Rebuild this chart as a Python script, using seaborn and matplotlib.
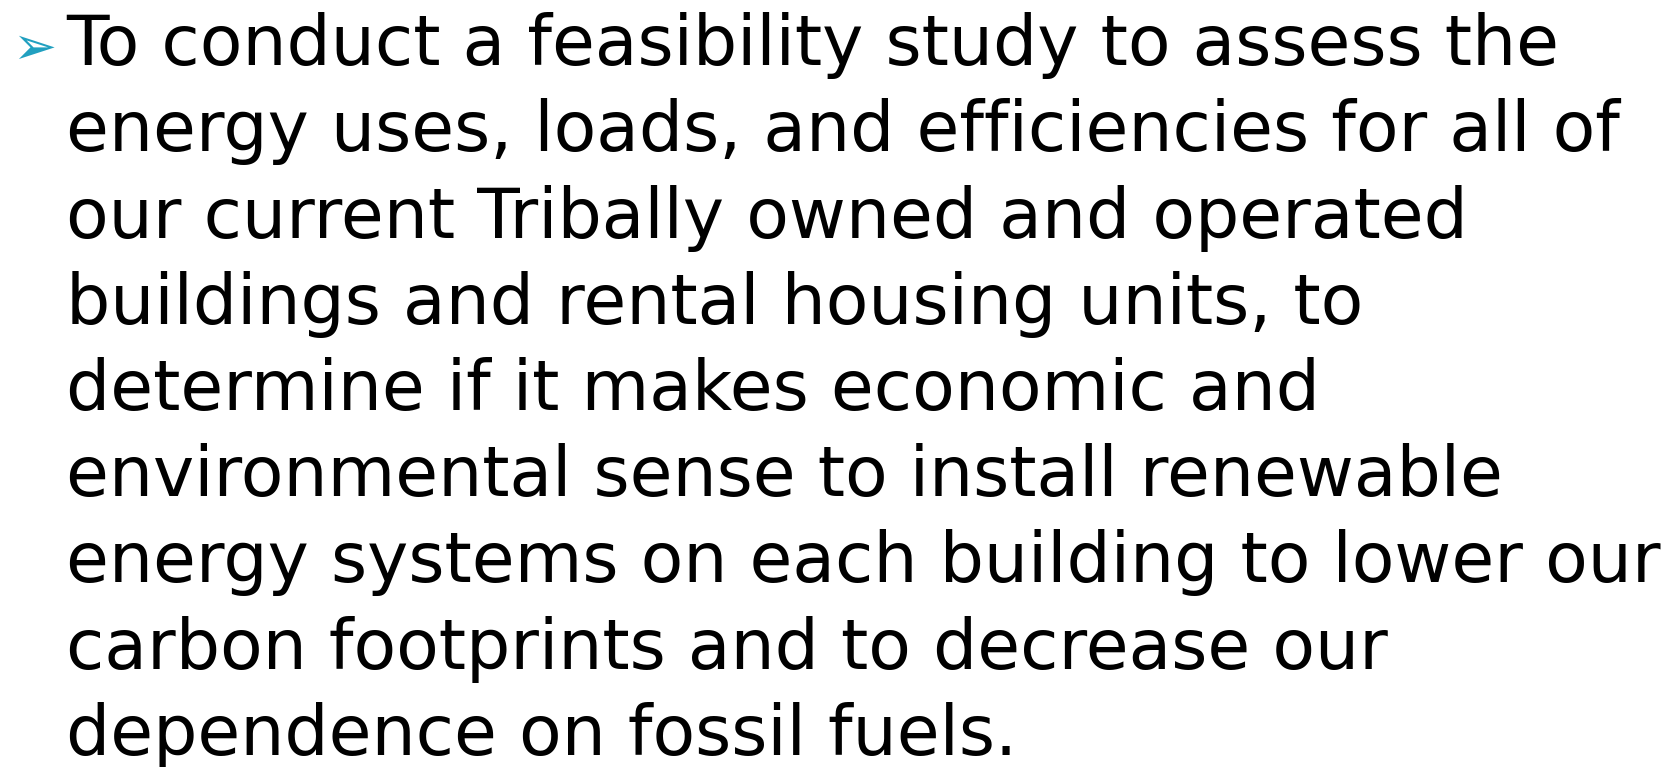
import matplotlib
matplotlib.use("Agg")
import matplotlib.pyplot as plt
import seaborn as sns

lines = [
    "To conduct a feasibility study to assess the",
    "energy uses, loads, and efficiencies for all of",
    "our current Tribally owned and operated",
    "buildings and rental housing units, to",
    "determine if it makes economic and",
    "environmental sense to install renewable",
    "energy systems on each building to lower our",
    "carbon footprints and to decrease our",
    "dependence on fossil fuels.",
]
bullet = "\u27a2"

sns.set_theme(style="white")
plt.rcParams['font.family'] = ['DejaVu Sans']

W, H = 1677, 767
fig = plt.figure(figsize=(W / 100, H / 100), dpi=100)
ax = fig.add_axes([0, 0, 1, 1])
ax.set_xlim(0, W)
ax.set_ylim(H, 0)
ax.axis("off")

x0 = 66
y0 = 65
step = 86.25
for i, t in enumerate(lines):
    ax.text(x0, y0 + i * step, t, fontsize=50.1, color="black",
            ha="left", va="baseline")
ax.text(12, 64, bullet, fontsize=38, color="#21a0c0", ha="left", va="baseline")

fig.savefig("out.png", dpi=100, facecolor="white")
